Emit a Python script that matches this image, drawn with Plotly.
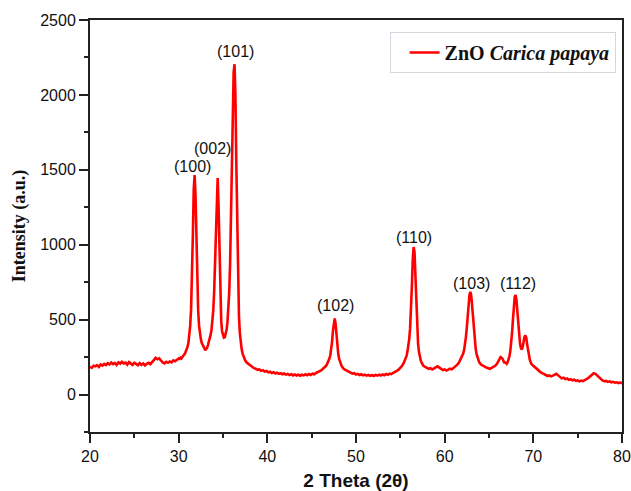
import numpy as np
import plotly.graph_objects as go

def grid(start, stop, step):
    return np.round(np.arange(start, stop + step / 2, step), 2)

# 2-theta grids (coarse on baseline, fine on peaks)
x_a = grid(20.0, 30.0, 0.2)
x_b = grid(30.1, 37.5, 0.1)
x_c = grid(37.7, 46.5, 0.2)
x_d = grid(46.6, 48.6, 0.1)
x_e = grid(48.8, 55.6, 0.2)
x_f = grid(55.7, 57.6, 0.1)
x_g = grid(57.8, 61.8, 0.2)
x_h = grid(61.9, 63.9, 0.1)
x_i = grid(64.1, 66.9, 0.2)
x_j = grid(67.0, 69.8, 0.1)
x_k = grid(70.0, 80.0, 0.2)

y_a = [185, 178, 192, 188, 196, 184, 200, 193, 205, 197,
       209, 201, 214, 203, 211, 198, 215, 206, 219, 208,
       213, 200, 216, 207, 198, 212, 203, 196, 210, 199,
       207, 194, 205, 212, 203, 221, 230, 245, 236, 242,
       226, 214, 208, 219, 212, 221, 215, 228, 222, 235, 241]
y_b = [238, 246, 240, 252, 258, 265, 272, 285, 296,
       318, 345, 390, 460, 570, 760, 1060, 1370, 1465, 1330,
       1020, 740, 560, 460, 405, 370, 345, 330, 318, 302,
       296, 305, 312, 330, 350, 372, 398, 430, 480, 560,
       680, 870, 1130, 1380, 1445, 1250, 920, 650, 490, 420,
       390, 380, 383, 400, 430, 480, 560, 680, 870, 1150,
       1520, 1900, 2150, 2205, 2000, 1550, 1080, 720, 520, 410,
       345, 305, 275, 255, 242, 228]
y_c = [212, 203,
       190, 186, 176, 172, 165,
       168, 158, 162, 153, 157,
       148, 152, 144, 149, 141,
       146, 138, 143, 135, 140,
       133, 138, 130, 136, 128,
       134, 127, 133, 126, 132,
       128, 135, 129, 137, 131,
       139, 135, 144, 148, 156,
       163, 172, 184]
y_d = [190, 198, 210, 222, 240, 262, 298, 350, 425, 490, 508,
       470, 395, 320, 270, 238, 215, 200, 188, 180, 172]
y_e = [165, 158, 150, 146, 140, 143,
       134, 138, 130, 135, 128,
       133, 126, 131, 125, 130,
       124, 131, 126, 133, 127,
       134, 129, 137, 132, 140,
       136, 145, 150, 158, 166,
       178, 192, 212, 240]
y_f = [258, 285, 318, 370, 440, 550, 720, 900, 985, 950,
       780, 580, 430, 340, 285, 250, 228, 212, 200, 192]
y_g = [185, 178, 172, 176, 168, 174, 182, 188, 180, 170, 163,
       168, 160, 166, 172, 168, 178, 185, 198, 212, 235]
y_h = [245, 258, 275, 300, 335, 385, 450, 530, 610, 665, 685,
       660, 590, 500, 420, 355, 305, 270, 245, 228, 215]
y_i = [200, 192, 185, 180, 176, 172, 178, 184, 192, 205,
       225, 250, 242, 215, 212]
y_j = [205, 215, 232, 255, 290, 340, 410, 500, 590, 650,
       665, 630, 555, 470, 395, 340, 310, 300, 318, 355,
       385, 395, 380, 335, 290, 255, 232, 215, 203]
y_k = [192, 180, 170, 158, 150, 143, 136, 131, 124, 128,
       121, 126, 133, 138, 128, 116, 108, 112, 103, 107,
       98, 103, 95, 99, 91, 95, 88, 93, 90, 96,
       101, 110, 121, 134, 142, 138, 126, 112, 101, 94,
       89, 91, 85, 88, 82, 85, 79, 82, 77, 80, 76]

two_theta = []
intensity = []
for xs, ys in [(x_a, y_a), (x_b, y_b), (x_c, y_c), (x_d, y_d), (x_e, y_e),
               (x_f, y_f), (x_g, y_g), (x_h, y_h), (x_i, y_i), (x_j, y_j), (x_k, y_k)]:
    n = min(len(xs), len(ys))
    two_theta.extend(list(xs[:n]))
    intensity.extend(ys[:n])

peak_labels = ["(100)", "(002)", "(101)", "(102)", "(110)", "(103)", "(112)"]
peak_label_x = [31.6, 33.85, 36.4, 47.64, 56.5, 63.0, 68.25]
peak_label_y = [1525, 1645, 2293, 597, 1045, 744, 744]

fig = go.Figure()
fig.add_trace(go.Scatter(
    x=two_theta, y=intensity, mode="lines",
    line=dict(color="#ff0000", width=2.6),
    name="<b>ZnO <i>Carica papaya</i></b>",
))

for t, px, py in zip(peak_labels, peak_label_x, peak_label_y):
    fig.add_annotation(x=px, y=py, text=t, showarrow=False,
                       font=dict(family="Arial, Liberation Sans", size=16, color="#111"),
                       xanchor="center", yanchor="middle")

axis_common = dict(
    showline=True, linecolor="#222", linewidth=2, mirror=True,
    ticks="outside", ticklen=9, tickwidth=1.5, tickcolor="#222",
    showgrid=False, zeroline=False, automargin=False,
    tickfont=dict(family="Arial, Liberation Sans", size=16, color="#111"),
)

fig.update_xaxes(range=[20, 80], tick0=20, dtick=10,
                 minor=dict(dtick=5, ticks="outside", ticklen=4, tickwidth=1.5, tickcolor="#222"),
                 title=dict(text="<b>2 Theta (2θ)</b>",
                            font=dict(family="Arial, Liberation Sans", size=19, color="#111"),
                            standoff=12),
                 **axis_common)
fig.update_yaxes(range=[-250, 2500], tickvals=[0, 500, 1000, 1500, 2000, 2500],
                 minor=dict(tick0=0, dtick=250, ticks="outside", ticklen=4, tickwidth=1.5, tickcolor="#222"),
                 title=dict(text="<b>Intensity (a.u.)</b>",
                            font=dict(family="Times New Roman, Liberation Serif", size=18, color="#111"),
                            standoff=10),
                 **axis_common)

fig.update_layout(
    width=631, height=491,
    margin=dict(l=90, r=9, t=20, b=59),
    plot_bgcolor="white", paper_bgcolor="white",
    showlegend=True,
    legend=dict(x=0.988, y=0.971, xanchor="right", yanchor="top",
                indentation=14,
                bgcolor="white", bordercolor="#d4d8de", borderwidth=1,
                font=dict(family="Times New Roman, Liberation Serif", size=20, color="#111")),
)

fig.write_html("out.html")
